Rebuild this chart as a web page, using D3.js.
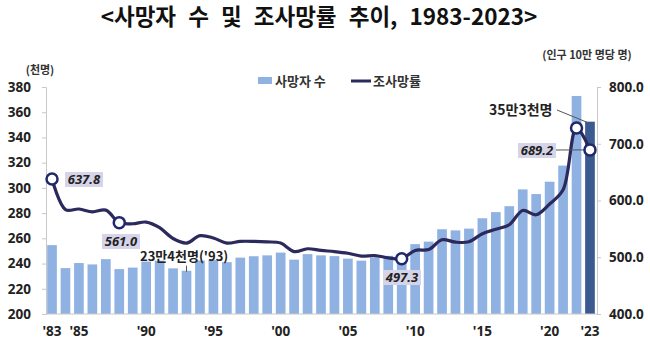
<!DOCTYPE html>
<html><head><meta charset="utf-8">
<script src="https://cdn.jsdelivr.net/npm/d3@7"></script>
<style>
body{margin:0;background:#fff;}
svg{display:block;font-family:"Noto Sans CJK KR","Noto Sans",sans-serif;}
</style></head><body>
<svg id="c" width="650" height="341"></svg>
<script>
const years = d3.range(1983, 2024);
const deaths = [254.6,236.4,240.4,239.3,243.5,235.6,236.8,241.6,242.3,236.2,
  234.3,242.4,242.8,241.1,244.7,245.8,246.5,248.7,243.1,247.5,
  246.5,245.9,243.9,242.3,244.9,246.1,246.9,255.4,257.4,267.2,
  266.3,267.7,275.9,280.8,285.5,298.8,295.1,304.9,317.7,372.9,352.5];
const rates = [637.8,584,585,580,583,561.0,559,562,552,533,
  525,538,534,525,528,528,527,525,510,515,
  512,510,507,502,503,499,497.3,512.0,513.6,530.8,
  526.6,527.3,541.5,549.4,557.3,582.5,574.8,593.9,618.9,727.6,689.2];
const xTickYears = [1983,1985,1990,1995,2000,2005,2010,2015,2020,2023];
const leftTicks = d3.range(200, 381, 20);
const rightTicks = [400,500,600,700,800];
const markedYears = [1983,1988,2009,2022,2023];

const svg = d3.select("#c");
const x = d3.scaleBand().domain(years).range([45.3, 596.7]).paddingInner(0.28).paddingOuter(0.14);
const yL = d3.scaleLinear().domain([200, 380]).range([314, 87]);
const yR = d3.scaleLinear().domain([400, 800]).range([314, 87]);

// title
svg.append("text").attr("x", 319).attr("y", 25).attr("text-anchor","middle")
  .attr("font-size", 22.5).attr("font-weight", 700).attr("fill","#111")
  .attr("word-spacing", 7)
  .text("<사망자 수 및 조사망률 추이, 1983-2023>");

// unit labels
svg.append("text").attr("x", 40).attr("y", 74).attr("text-anchor","middle")
  .attr("font-size", 11).attr("font-weight",700).attr("fill","#333").text("(천명)");
svg.append("text").attr("x", 587).attr("y", 59).attr("text-anchor","middle")
  .attr("font-size", 11).attr("font-weight",700).attr("fill","#333").text("(인구 10만 명당 명)");

// legend
svg.append("rect").attr("x",258).attr("y",77).attr("width",14).attr("height",7).attr("fill","#8fb2e3");
svg.append("text").attr("x",275).attr("y",86).attr("font-size",13).attr("font-weight",700).attr("fill","#333").text("사망자 수");
svg.append("line").attr("x1",351).attr("x2",371).attr("y1",81).attr("y2",81).attr("stroke","#2c2a5c").attr("stroke-width",3);
svg.append("text").attr("x",373).attr("y",86).attr("font-size",13).attr("font-weight",700).attr("fill","#333").text("조사망률");

// bars
svg.append("g").selectAll("rect").data(years).join("rect")
  .attr("x", d => x(d)).attr("width", x.bandwidth())
  .attr("y", (d,i) => yL(deaths[i])).attr("height", (d,i) => yL(200) - yL(deaths[i]))
  .attr("fill", d => d === 2023 ? "#3b5a8f" : "#8fb2e3");

// axes
const gl = svg.append("g").attr("transform","translate(46,0)")
  .call(d3.axisLeft(yL).tickValues(leftTicks).tickSize(4).tickPadding(11));
const gr = svg.append("g").attr("transform","translate(597,0)")
  .call(d3.axisRight(yR).tickValues(rightTicks).tickSize(4).tickPadding(8).tickFormat(d3.format(".1f")));
[gl, gr].forEach(g => {
  g.select(".domain").attr("stroke","#c8c8c8");
  g.selectAll(".tick line").attr("stroke","#c8c8c8");
  g.selectAll(".tick text").attr("font-size",13.5).attr("font-weight",700).attr("fill","#222")
    .attr("font-family","'Noto Sans','Open Sans',sans-serif");
});
const gb = svg.append("g").attr("transform","translate(0,314)")
  .call(d3.axisBottom(x).tickValues(xTickYears).tickSize(0).tickPadding(12)
    .tickFormat(d => "'" + String(d).slice(2)));
gb.select(".domain").attr("stroke","#c8c8c8").attr("d","M46,0H597");
gb.selectAll(".tick text").attr("font-size",13.5).attr("font-weight",700).attr("fill","#222")
  .attr("font-family","'Noto Sans','Open Sans',sans-serif");

// line
const cx = d => x(d) + x.bandwidth()/2;
const line = d3.line().x((d,i) => cx(years[i])).y(d => yR(d)).curve(d3.curveCatmullRom.alpha(0.5));
svg.append("path").datum(rates).attr("d", line).attr("fill","none")
  .attr("stroke","#2c2a5c").attr("stroke-width",3.2).attr("stroke-linejoin","round");

// leader lines
const i23 = years.indexOf(2023), i93 = years.indexOf(1993);
svg.append("line").attr("x1",556).attr("y1",150).attr("x2",cx(2023)).attr("y2",yR(rates[i23]))
  .attr("stroke","#555").attr("stroke-width",1);
svg.append("line").attr("x1",557).attr("y1",110).attr("x2",cx(2023)-2).attr("y2",yL(deaths[i23])+1)
  .attr("stroke","#555").attr("stroke-width",1);
svg.append("line").attr("x1",cx(1993)).attr("y1",yL(deaths[i93])-5).attr("x2",cx(1993)).attr("y2",yL(deaths[i93])+1)
  .attr("stroke","#555").attr("stroke-width",1);

// markers
svg.append("g").selectAll("circle").data(markedYears).join("circle")
  .attr("cx", d => cx(d)).attr("cy", d => yR(rates[years.indexOf(d)])).attr("r", 5.5)
  .attr("fill","#fff").attr("stroke","#1f2868").attr("stroke-width",2.5);

// value boxes
const boxes = [
  {t:"637.8", x:65, y:172},
  {t:"561.0", x:102, y:234},
  {t:"497.3", x:383, y:270},
  {t:"689.2", x:518, y:143}
];
boxes.forEach(b => {
  svg.append("rect").attr("x",b.x).attr("y",b.y).attr("width",38).attr("height",15).attr("fill","#d6d4e8");
  svg.append("text").attr("x",b.x+19).attr("y",b.y+12).attr("text-anchor","middle")
    .attr("font-size",13).attr("font-weight",700).attr("font-style","italic").attr("fill","#222")
    .attr("font-family","'Noto Sans','Open Sans',sans-serif").text(b.t);
});

// annotations
svg.append("text").attr("x",140).attr("y",261).attr("font-size",13).attr("font-weight",700).attr("fill","#222")
  .text("23만4천명('93)");
svg.append("text").attr("x",489).attr("y",115).attr("font-size",14).attr("font-weight",700).attr("fill","#222")
  .text("35만3천명");
</script></body></html>
